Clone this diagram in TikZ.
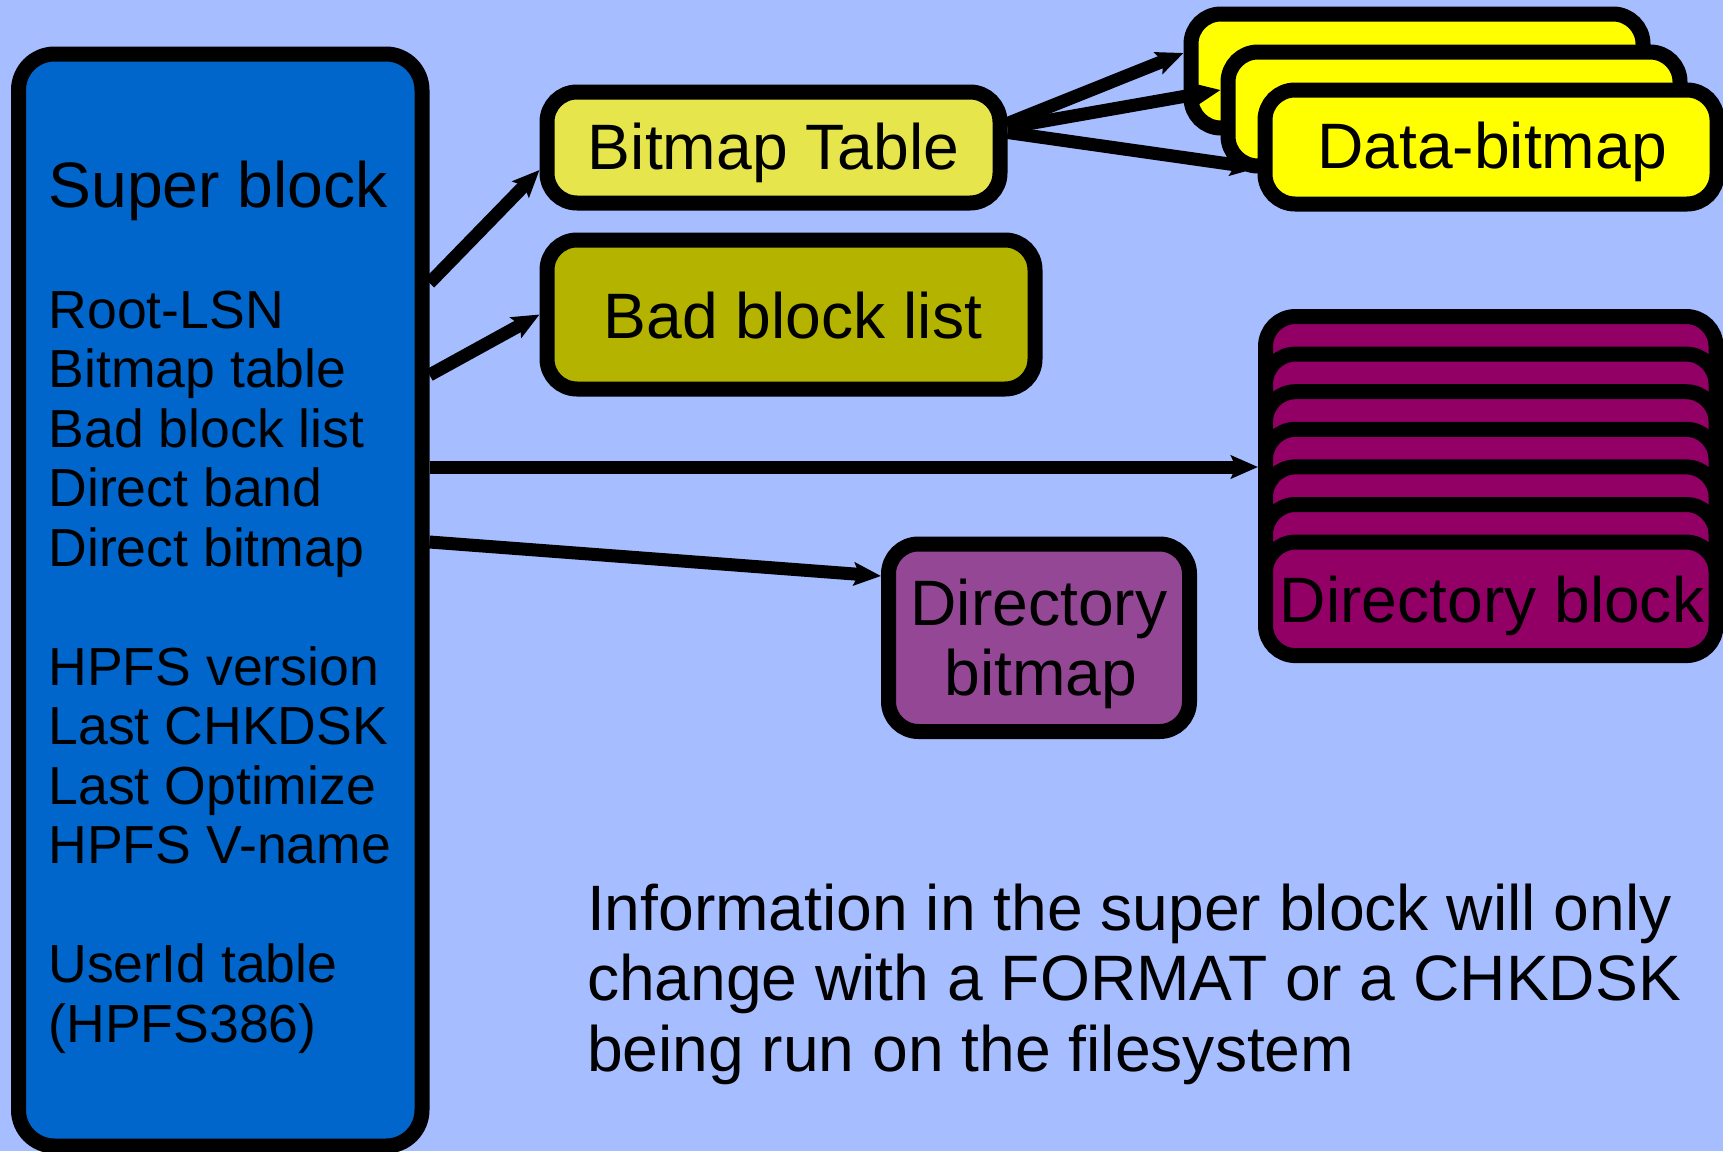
\documentclass[tikz,border=0pt]{standalone}
\usepackage{fontspec}
\setmainfont{Liberation Sans}
\usetikzlibrary{arrows.meta}

\definecolor{bgblue}{RGB}{166,189,255}
\definecolor{superblue}{RGB}{0,102,204}
\definecolor{bmyellow}{RGB}{230,230,76}
\definecolor{badolive}{RGB}{179,179,0}
\definecolor{datayellow}{RGB}{255,255,0}
\definecolor{dirpurple}{RGB}{146,0,102}
\definecolor{dbmauve}{RGB}{148,71,148}

\begin{document}
\begin{tikzpicture}[x=1pt,y=-1pt,
  box/.style={draw=black, line width=15pt, rounded corners=30pt,
    inner sep=0pt, outer sep=7.5pt},
  big/.style={font=\fontsize{64.2pt}{70pt}\selectfont, inner sep=0pt, outer sep=0pt},
  med/.style={font=\fontsize{53.6pt}{59.5pt}\selectfont, inner sep=0pt, outer sep=0pt},
  arr/.style={draw=black, line width=13pt,
    -{Stealth[length=27pt,width=23pt,inset=5pt]}}]

% page and background
\useasboundingbox (0,0) rectangle (1723,1151);
\fill[bgblue] (0,0) rectangle (1723,1151);

% super block
\node[box, rounded corners=36pt, fill=superblue,
      minimum width=403.5pt, minimum height=1092pt] (sb) at (220.25,600) {};
\node[big, anchor=base west] (sbtitle) at (48.5,207) {Super block};
\foreach \t/\k/\n in {Root-LSN/0/a, Bitmap table/1/b, Bad block list/2/c,
    Direct band/3/d, Direct bitmap/4/e, HPFS version/6/f, Last CHKDSK/7/g,
    Last Optimize/8/h, HPFS V-name/9/i, UserId table/11/j, {(HPFS386)}/12/k}
  \node[med, anchor=base west] (item\n) at (48.5,{328+59.5*\k}) {\t};

% bitmap table and bad block list
\node[box, fill=bmyellow, minimum width=453pt, minimum height=111pt] (bt) at (773.5,147.5) {};
\node[big, anchor=base] (btlbl) at (773.5,169) {Bitmap Table};
\node[box, fill=badolive, minimum width=488pt, minimum height=149pt] (bb) at (791,314.5) {};
\node[big, anchor=base] (bblbl) at (793,338) {Bad block list};

% directory bitmap
\node[box, fill=dbmauve, minimum width=301pt, minimum height=187.5pt] (db) at (1039,637.75) {};
\node[big, anchor=base] (dbl1) at (1039,625) {Directory};
\node[big, anchor=base] (dbl2) at (1041,695) {bitmap};

% stack of directory blocks
\foreach \k in {0,...,6}
  \node[box, fill=dirpurple, minimum width=450.5pt, minimum height=113.5pt]
    (dir\k) at (1490.75,{373.25+37.6*\k}) {};
\node[big, anchor=base] (dirlbl) at (1492,622) {Directory block};

% stack of data bitmaps
\node[box, fill=datayellow, minimum width=452pt, minimum height=114pt] (d1) at (1417,71) {};
\node[box, fill=datayellow, minimum width=452pt, minimum height=114pt] (d2) at (1454,109) {};
\node[box, fill=datayellow, minimum width=452pt, minimum height=114pt] (d3) at (1491,147) {};
\node[big, anchor=base] (d3lbl) at (1492,168) {Data-bitmap};
\draw[arr] ([yshift=24pt]bt.east) -- ([yshift=18pt]d1.west);
\draw[arr] ([yshift=20pt]bt.east) -- ([yshift=19pt]d2.west);
\draw[arr] ([yshift=15pt]bt.east) -- ([yshift=-21pt]d3.west);

% pointers out of the super block
\draw[arr] ([yshift=317pt]sb.east) -- ([yshift=-22.5pt]bt.west);
\draw[arr] ([yshift=225pt]sb.east) -- (bb.west);
\draw[arr] ([yshift=133pt]sb.east) coordinate (s3) -- (s3 -| dir0.west);
\draw[arr] ([yshift=58pt]sb.east) -- ([yshift=61.75pt]db.west);

% note
\node[big, anchor=base west] (n1) at (587,930) {Information in the super block will only};
\node[big, anchor=base west] (n2) at (587,1000.5) {change with a FORMAT or a CHKDSK};
\node[big, anchor=base west] (n3) at (587,1071) {being run on the filesystem};
\end{tikzpicture}
\end{document}
